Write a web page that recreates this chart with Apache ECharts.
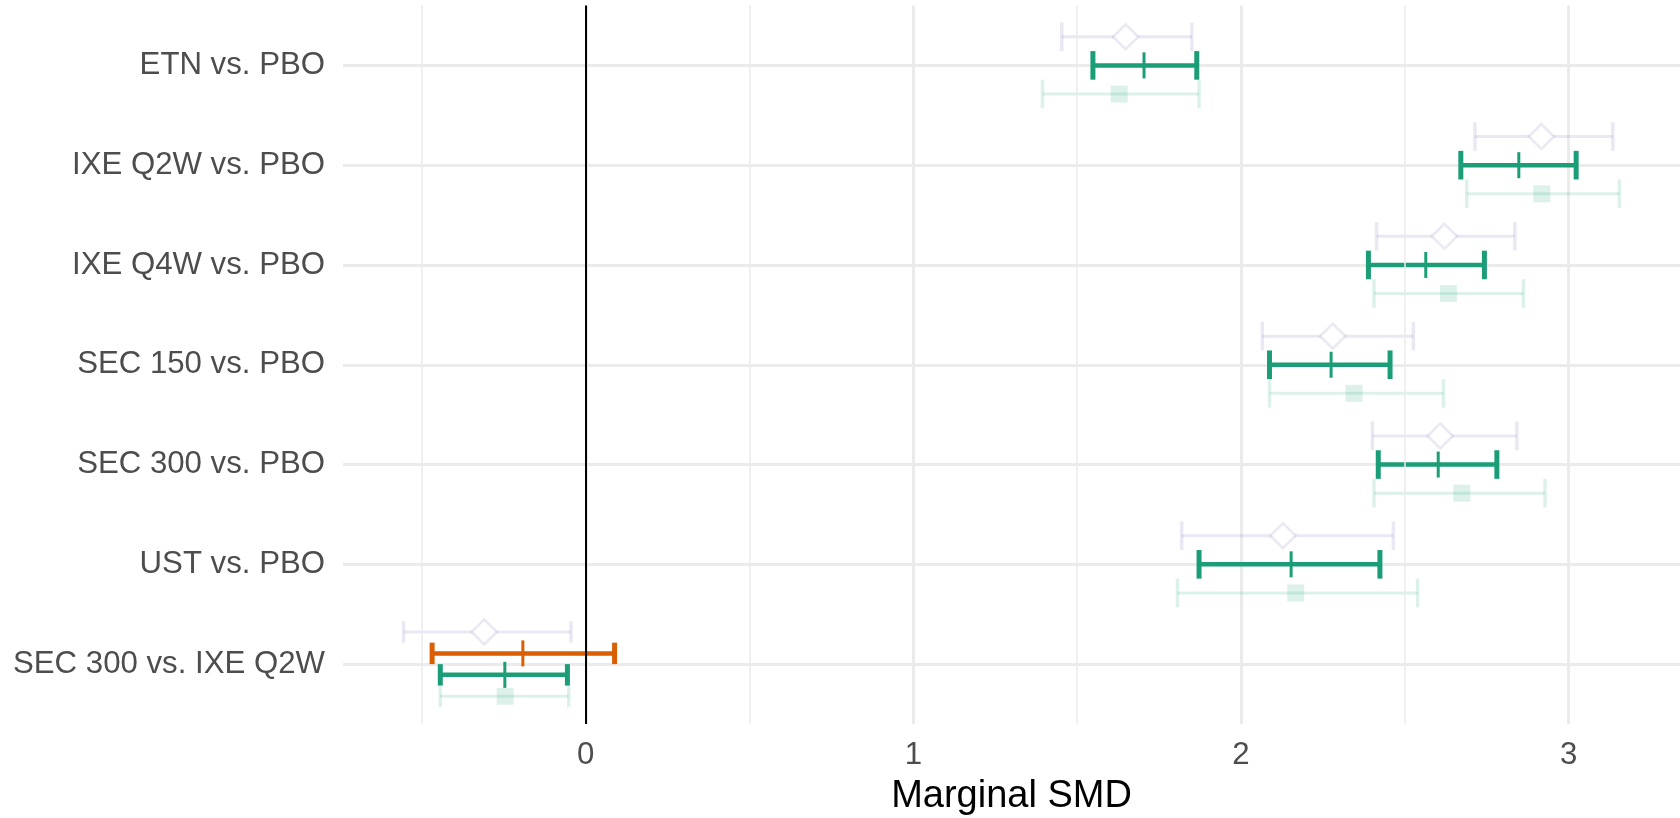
<!DOCTYPE html>
<html><head><meta charset="utf-8">
<script src="https://cdn.jsdelivr.net/npm/echarts@6/dist/echarts.min.js"></script>
<style>html,body{margin:0;padding:0;background:#fff}#c{width:1680px;height:818px}</style>
</head><body><div id="c"></div>
<script>
const categories = ['ETN vs. PBO','IXE Q2W vs. PBO','IXE Q4W vs. PBO','SEC 150 vs. PBO','SEC 300 vs. PBO','UST vs. PBO','SEC 300 vs. IXE Q2W'];
// faded purple (open diamond)
const diamondLow  = [1.453, 2.714, 2.414, 2.065, 2.401, 1.819, -0.556];
const diamondEst  = [1.648, 2.917, 2.621, 2.280, 2.608, 2.128, -0.310];
const diamondHigh = [1.850, 3.135, 2.836, 2.526, 2.842, 2.465, -0.045];
// orange (only last comparison)
const orangeLow  = [null, null, null, null, null, null, -0.469];
const orangeEst  = [null, null, null, null, null, null, -0.192];
const orangeHigh = [null, null, null, null, null, null, 0.088];
// main green
const greenLow  = [1.548, 2.671, 2.389, 2.087, 2.419, 1.872, -0.444];
const greenEst  = [1.704, 2.848, 2.564, 2.275, 2.602, 2.153, -0.247];
const greenHigh = [1.865, 3.023, 2.743, 2.455, 2.781, 2.424, -0.056];
// faded green (filled square)
const squareLow  = [1.394, 2.689, 2.406, 2.087, 2.406, 1.806, -0.444];
const squareEst  = [1.628, 2.918, 2.633, 2.345, 2.674, 2.167, -0.246];
const squareHigh = [1.872, 3.155, 2.862, 2.618, 2.928, 2.539, -0.052];
const xTicks = [0, 1, 2, 3];
const xMinorTicks = [-0.5, 0.5, 1.5, 2.5];
const xAxisTitle = 'Marginal SMD';

const seriesDefs = [
  {name:'diamond', low:diamondLow, est:diamondEst, high:diamondHigh, color:'rgba(117,112,179,0.16)', lw:3, marker:'diamond'},
  {name:'orange', low:orangeLow, est:orangeEst, high:orangeHigh, color:'#D95F02', lw:4.5, marker:'tick'},
  {name:'green', low:greenLow, est:greenEst, high:greenHigh, color:'#1B9E77', lw:4.5, marker:'tick'},
  {name:'square', low:squareLow, est:squareEst, high:squareHigh, color:'rgba(27,158,119,0.15)', lw:3, marker:'square'}
];
const DODGE = 0.86;

function buildData(si) {
  const d = seriesDefs[si];
  const out = [];
  categories.forEach((c, i) => {
    if (d.est[i] == null) return;
    const present = seriesDefs.map(s => s.est[i] != null);
    const n = present.filter(Boolean).length;
    let k = 0;
    for (let j = 0; j < si; j++) if (present[j]) k++;
    const off = (k - (n - 1) / 2) * (DODGE / n);
    out.push([i + 1, d.low[i], d.est[i], d.high[i], off, DODGE / n]);
  });
  return out;
}

function makeRender(d) {
  return function (params, api) {
    const row = api.value(0), lo = api.value(1), est = api.value(2), hi = api.value(3);
    const off = api.value(4), capU = api.value(5);
    const y = row + off;
    const pL = api.coord([lo, y]), pE = api.coord([est, y]), pH = api.coord([hi, y]);
    const unit = api.size([0, 1])[1];
    const ch = capU * unit / 2;
    const st = {stroke: d.color, lineWidth: d.lw};
    const cst = {stroke: d.color, lineWidth: d.lw + 0.5};
    const children = [
      {type:'line', shape:{x1:pL[0], y1:pL[1], x2:pH[0], y2:pH[1]}, style:st},
      {type:'line', shape:{x1:pL[0], y1:pL[1]-ch, x2:pL[0], y2:pL[1]+ch}, style:cst},
      {type:'line', shape:{x1:pH[0], y1:pH[1]-ch, x2:pH[0], y2:pH[1]+ch}, style:cst}
    ];
    if (d.marker === 'tick') {
      children.push({type:'line', shape:{x1:pE[0], y1:pE[1]-13, x2:pE[0], y2:pE[1]+13}, style:{stroke:d.color, lineWidth:3}});
    } else if (d.marker === 'diamond') {
      const r = 12.5;
      children.push({type:'polygon', shape:{points:[[pE[0], pE[1]-r],[pE[0]+r, pE[1]],[pE[0], pE[1]+r],[pE[0]-r, pE[1]]]},
        style:{fill:'#fff', stroke:d.color, lineWidth:2.5}});
    } else if (d.marker === 'square') {
      const s = 8.5;
      children.push({type:'rect', shape:{x:pE[0]-s, y:pE[1]-s, width:2*s, height:2*s}, style:{fill:d.color}});
    }
    return {type:'group', children};
  };
}

const font = 'Liberation Sans, Arial, sans-serif';
const rowVals = categories.map((c, i) => i + 1);

const series = seriesDefs.map((d, si) => ({
  type:'custom', name:d.name, coordinateSystem:'cartesian2d',
  renderItem: makeRender(d), data: buildData(si), encode:{x:[1,2,3], y:0}, z:2, silent:true
}));
series.unshift({
  type:'line', data:[], silent:true, z:1,
  markLine:{silent:true, symbol:['none','none'], label:{show:false},
    lineStyle:{color:'#EBEBEB', width:1.5, type:'solid'},
    data: xMinorTicks.map(v => ({xAxis:v}))}
});
series.push({
  type:'line', data:[], silent:true, z:5,
  markLine:{silent:true, symbol:['none','none'], label:{show:false},
    lineStyle:{color:'#000', width:2, type:'solid'}, data:[{xAxis:0}]}
});

const chart = echarts.init(document.getElementById('c'));
chart.setOption({
  animation:false,
  backgroundColor:'#fff',
  grid:{left:343, right:0, top:5.5, bottom:94, containLabel:false, outerBoundsMode:'none'},
  xAxis:{type:'value', min:-0.741, max:3.34,
    axisLine:{show:false}, axisTick:{show:false, customValues:xTicks},
    axisLabel:{customValues:xTicks, fontSize:31.2, color:'#4D4D4D', margin:16, fontFamily:font},
    splitLine:{show:true, lineStyle:{color:'#EBEBEB', width:3}},
    name:xAxisTitle, nameLocation:'middle', nameGap:54,
    nameTextStyle:{fontSize:38, color:'#000', fontFamily:font}},
  yAxis:{type:'value', min:0.4, max:7.6, inverse:true,
    axisLine:{show:false}, axisTick:{show:false, customValues:rowVals},
    axisLabel:{customValues:rowVals, formatter:v => categories[Math.round(v)-1], fontSize:31.2, color:'#4D4D4D', margin:18, fontFamily:font},
    splitLine:{show:true, lineStyle:{color:'#EBEBEB', width:3}}},
  series
});
</script></body></html>
